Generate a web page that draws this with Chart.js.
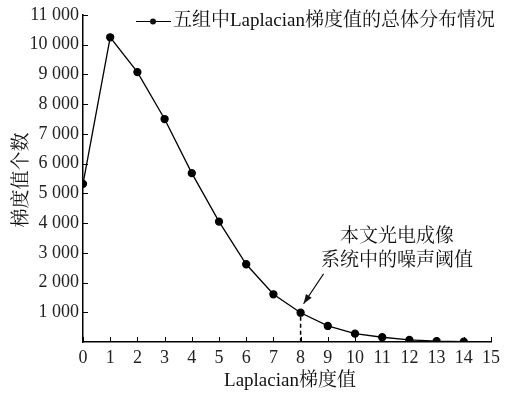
<!DOCTYPE html>
<html>
<head>
<meta charset="utf-8">
<script src="https://cdn.jsdelivr.net/npm/chart.js@4.4.0/dist/chart.umd.min.js"></script>
<style>
  html, body { margin: 0; padding: 0; background: #fff; }
  #wrap { width: 514px; height: 394px; }
</style>
</head>
<body>
<div id="wrap"><canvas id="grafica"></canvas></div>
<script>
// datos
const gradientes = [0, 1, 2, 3, 4, 5, 6, 7, 8, 9, 10, 11, 12, 13, 14];
const cantidades = [5320, 10250, 9080, 7500, 5680, 4050, 2615, 1605, 985, 540, 280, 160, 70, 28, 12];
const ticksX = [0, 1, 2, 3, 4, 5, 6, 7, 8, 9, 10, 11, 12, 13, 14, 15];
const ticksY = [1000, 2000, 3000, 4000, 5000, 6000, 7000, 8000, 9000, 10000, 11000];
const textoLeyenda = '五组中Laplacian梯度值的总体分布情况';
const tituloX = 'Laplacian梯度值';
const tituloY = '梯度值个数';
const notaLineas = ['本文光电成像', '系统中的噪声阈值'];
const umbral = 8;

const fuente = '"Liberation Serif", "Noto Serif CJK SC", "Noto Sans CJK SC", serif';

function formatoMiles(v) {
    return v.toString().replace(/\B(?=(\d{3})+(?!\d))/g, ' ');
}

const extras = {
    id: 'extras',
    afterDraw(chart) {
        const ctx = chart.ctx;
        const x = chart.scales.x;
        const y = chart.scales.y;
        const area = chart.chartArea;
        ctx.save();
        ctx.strokeStyle = '#000';
        ctx.fillStyle = '#111';

        // marcas interiores
        ctx.lineWidth = 1;
        ctx.beginPath();
        ticksX.forEach(t => {
            const px = Math.round(x.getPixelForValue(t)) + 0.5;
            ctx.moveTo(px, area.bottom);
            ctx.lineTo(px, area.bottom - 5);
        });
        ticksY.forEach(t => {
            const py = Math.round(y.getPixelForValue(t)) + 0.5;
            ctx.moveTo(area.left, py);
            ctx.lineTo(area.left + 5, py);
        });
        ctx.stroke();

        // línea discontinua en el umbral
        const ux = x.getPixelForValue(umbral);
        const uy = y.getPixelForValue(cantidades[gradientes.indexOf(umbral)]);
        ctx.setLineDash([4, 3]);
        ctx.lineWidth = 1.5;
        ctx.beginPath();
        ctx.moveTo(ux, uy + 4);
        ctx.lineTo(ux, area.bottom);
        ctx.stroke();
        ctx.setLineDash([]);

        // flecha
        const ax0 = ux + 23, ay0 = uy - 39;
        const ax1 = ux + 3, ay1 = uy - 9;
        ctx.lineWidth = 1.2;
        ctx.beginPath();
        ctx.moveTo(ax0, ay0);
        ctx.lineTo(ax1, ay1);
        ctx.stroke();
        const ang = Math.atan2(ay1 - ay0, ax1 - ax0);
        ctx.beginPath();
        ctx.moveTo(ax1, ay1);
        ctx.lineTo(ax1 - 10 * Math.cos(ang - 0.35), ay1 - 10 * Math.sin(ang - 0.35));
        ctx.lineTo(ax1 - 10 * Math.cos(ang + 0.35), ay1 - 10 * Math.sin(ang + 0.35));
        ctx.closePath();
        ctx.fill();

        // nota
        ctx.font = '19px ' + fuente;
        ctx.textAlign = 'center';
        ctx.textBaseline = 'middle';
        ctx.fillText(notaLineas[0], 397, 237);
        ctx.fillText(notaLineas[1], 397, 261);

        // leyenda
        ctx.lineWidth = 1.2;
        ctx.beginPath();
        ctx.moveTo(136, 21.5);
        ctx.lineTo(171, 21.5);
        ctx.stroke();
        ctx.beginPath();
        ctx.arc(153, 21.5, 3, 0, Math.PI * 2);
        ctx.fill();
        ctx.textAlign = 'left';
        ctx.fillText(textoLeyenda, 173, 21);

        // títulos de ejes
        ctx.textAlign = 'center';
        ctx.fillText(tituloX, 290, 381);
        ctx.translate(22, 180);
        ctx.rotate(-Math.PI / 2);
        ctx.fillText(tituloY, 0, 0);
        ctx.restore();
    }
};

new Chart(document.getElementById('grafica').getContext('2d'), {
    type: 'line',
    data: {
        datasets: [{
            label: textoLeyenda,
            data: gradientes.map((g, i) => ({ x: g, y: cantidades[i] })),
            borderColor: '#000',
            backgroundColor: '#000',
            borderWidth: 1.3,
            pointRadius: 3.5,
            pointHoverRadius: 3.5,
            tension: 0,
            fill: false
        }]
    },
    options: {
        responsive: true,
        maintainAspectRatio: false,
        animation: false,
        events: [],
        layout: { padding: { top: 15, right: 23, left: 0, bottom: 0 } },
        plugins: {
            legend: { display: false },
            tooltip: { enabled: false }
        },
        scales: {
            x: {
                type: 'linear',
                min: 0,
                max: 15,
                afterFit: s => { s.height = 52; },
                afterBuildTicks: s => { s.ticks = ticksX.map(v => ({ value: v })); },
                grid: { display: false },
                border: { display: true, color: '#000', width: 1.5 },
                ticks: {
                    color: '#222',
                    font: { family: fuente, size: 18 },
                    padding: -3,
                    maxRotation: 0,
                    autoSkip: false
                }
            },
            y: {
                min: 0,
                max: 11000,
                afterFit: s => { s.width = 83; },
                afterBuildTicks: s => { s.ticks = ticksY.map(v => ({ value: v })); },
                grid: { display: false },
                border: { display: true, color: '#000', width: 1.5 },
                ticks: {
                    color: '#222',
                    font: { family: fuente, size: 18 },
                    padding: -4,
                    callback: v => formatoMiles(v)
                }
            }
        }
    },
    plugins: [extras]
});
</script>
</body>
</html>
